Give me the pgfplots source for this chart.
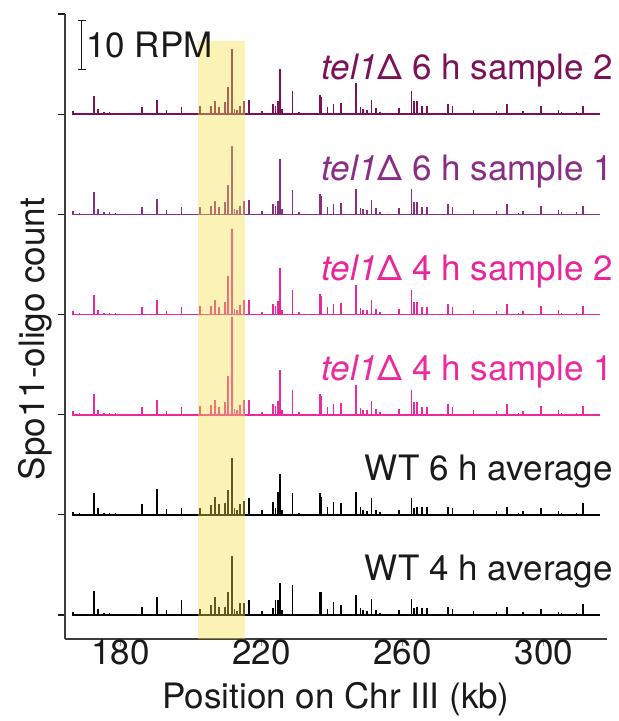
\documentclass[border=0pt]{standalone}
\usepackage{pgfplots}
\usepackage{pgfplotstable}
\pgfplotsset{compat=1.18}
\usepackage{fontspec}
\setmainfont{TeX Gyre Heros}

\definecolor{csixb}{HTML}{7C1157}
\definecolor{csixa}{HTML}{8A2D84}
\definecolor{cfourb}{HTML}{E8259A}
\definecolor{cfoura}{HTML}{EC2A9E}
\definecolor{txt}{HTML}{1A1A1A}
\definecolor{band}{RGB}{242,226,70}

% Spo11-oligo peaks (position in kb, height in RPM)
\pgfplotstableread{
x h
166.5 0.7
168.4 0.3
172.6 3.7
173.6 1.0
175.4 0.4
176.9 0.4
178.6 0.3
186.2 1.4
190.4 3.0
193.1 0.8
197.3 1.4
202.6 1.6
205.6 1.7
206.8 2.7
208.0 1.4
209.7 2.4
210.5 5.5
211.7 13.3
212.3 1.0
213.0 0.8
213.9 1.7
215.0 2.7
216.5 2.8
220.2 0.6
223.3 2.1
223.9 1.7
224.6 2.6
225.2 9.3
225.8 1.0
228.8 4.8
230.6 0.5
236.6 4.0
236.9 3.6
238.7 1.5
240.4 2.0
242.5 2.2
246.6 3.0
246.8 6.3
248.0 1.4
248.7 1.0
249.8 0.9
251.2 2.8
252.5 1.2
253.6 0.5
259.0 1.2
262.5 4.8
263.2 2.6
264.0 2.6
265.4 1.6
266.8 1.6
272.9 2.1
274.1 1.6
280.0 0.9
286.6 0.7
289.5 2.1
292.8 0.3
294.0 0.7
299.1 1.7
304.1 0.9
305.0 0.4
309.2 0.4
311.0 1.7
}\tSixB

\pgfplotstableread{
x h
166.5 0.7
168.4 0.3
172.6 4.5
173.6 1.1
175.4 0.4
176.9 0.4
178.6 0.3
186.2 1.5
190.4 3.2
193.1 0.8
197.3 1.5
202.6 1.6
205.6 1.8
206.8 2.8
208.0 1.5
209.7 2.5
210.5 6.0
211.7 13.9
212.3 1.0
213.0 0.8
213.9 1.8
215.0 2.8
216.5 3.0
220.2 0.6
223.3 2.2
223.9 1.8
224.6 2.8
225.2 11.3
225.8 1.0
228.8 5.0
230.6 0.5
236.6 4.2
236.9 3.8
238.7 1.5
240.4 2.1
242.5 2.3
246.8 5.1
248.0 1.4
248.7 1.0
249.8 0.9
251.2 2.9
252.5 1.2
253.6 0.5
259.0 1.2
262.5 5.1
263.2 2.6
264.0 2.6
265.4 1.6
266.8 1.6
272.9 2.2
274.1 1.6
280.0 0.9
286.6 0.7
289.5 2.2
292.8 0.3
294.0 0.7
299.1 1.8
304.1 0.9
305.0 0.4
309.2 0.4
311.0 1.8
}\tSixA

\pgfplotstableread{
x h
166.5 0.7
168.4 0.3
172.6 4.0
173.6 1.0
175.4 0.4
176.9 0.4
178.6 0.3
186.2 1.5
190.4 3.0
193.1 0.8
197.3 1.5
202.6 1.7
205.6 1.8
206.8 3.0
208.0 1.5
209.7 2.6
210.5 7.8
211.7 17.4
212.3 1.2
213.0 0.9
213.9 1.9
215.0 3.0
216.5 3.0
220.2 0.6
223.3 2.2
223.9 1.8
224.6 2.8
225.2 9.6
225.8 1.0
228.8 5.0
230.6 0.5
236.6 4.3
236.9 3.8
238.7 1.5
240.4 2.1
242.5 2.3
246.8 6.0
248.0 1.4
248.7 1.0
249.8 0.9
251.2 2.9
252.5 1.2
253.6 0.5
259.0 1.2
262.5 5.0
263.2 2.6
264.0 2.6
265.4 1.6
266.8 1.6
272.9 2.2
274.1 1.6
280.0 0.9
286.6 0.7
289.5 2.2
292.8 0.3
294.0 0.7
299.1 1.8
304.1 0.9
305.0 0.4
309.2 0.4
311.0 1.8
}\tFourB

\pgfplotstableread{
x h
166.5 0.7
168.4 0.3
172.6 4.2
173.6 1.0
175.4 0.4
176.9 0.4
178.6 0.3
186.2 1.5
190.4 3.1
193.1 0.8
197.3 1.5
202.6 1.7
205.6 1.9
206.8 3.1
208.0 1.5
209.7 2.7
210.5 8.0
211.7 19.9
212.3 1.2
213.0 0.9
213.9 2.0
215.0 3.1
216.5 3.1
220.2 0.6
223.3 2.2
223.9 1.8
224.6 2.8
225.2 9.2
225.8 1.0
228.8 5.0
230.6 0.5
236.6 4.3
236.9 3.8
238.7 1.5
240.4 2.1
242.5 2.3
246.8 6.0
248.0 1.4
248.7 1.0
249.8 0.9
251.2 2.9
252.5 1.2
253.6 0.5
259.0 1.2
262.5 5.0
263.2 2.6
264.0 2.6
265.4 1.6
266.8 1.6
272.9 2.2
274.1 1.6
280.0 0.9
286.6 0.7
289.5 2.2
292.8 0.3
294.0 0.7
299.1 1.8
304.1 0.9
305.0 0.4
309.2 0.4
311.0 1.8
}\tFourA

\pgfplotstableread{
x h
166.5 0.55
168.4 0.3
172.6 4.5
173.6 1.4
175.4 0.4
176.9 0.4
178.6 0.3
186.2 2.3
190.4 5.2
193.1 1.2
197.3 1.4
202.6 1.5
205.6 2.0
206.8 3.7
208.0 2.3
209.7 2.5
210.5 5.0
211.7 11.6
212.3 1.5
213.0 1.0
213.9 2.3
215.0 2.8
216.5 3.5
220.2 0.9
223.3 2.6
223.9 1.4
224.6 4.6
225.2 8.3
225.8 1.0
228.8 4.4
230.6 0.4
236.6 4.5
236.9 3.7
238.7 1.6
240.4 2.6
242.5 2.4
246.8 4.6
248.0 1.6
248.7 1.0
249.8 0.8
251.2 3.4
252.5 1.0
253.6 0.5
259.0 1.0
262.5 3.5
263.2 1.4
264.0 1.7
265.4 1.6
266.8 1.6
272.9 1.7
274.1 1.4
280.0 0.9
286.6 0.7
289.5 1.7
292.8 0.3
294.0 0.7
299.1 1.4
304.1 0.7
305.0 0.4
309.2 0.4
311.0 2.4
}\tSixW

\pgfplotstableread{
x h
166.5 0.6
168.4 0.3
172.6 5.0
173.6 1.2
175.4 0.4
176.9 0.4
178.6 0.3
186.2 1.7
190.4 3.7
193.1 1.0
197.3 3.1
202.6 1.2
205.6 2.1
206.8 3.7
208.0 1.7
209.7 1.7
210.5 4.8
211.7 12.0
212.3 1.3
213.0 0.9
213.9 2.4
215.0 2.5
216.5 3.1
220.2 0.8
223.3 1.4
223.9 3.1
224.6 3.1
225.2 6.5
225.8 1.0
228.8 6.2
230.6 0.3
236.6 4.8
236.9 4.7
238.7 1.2
240.4 2.6
242.5 2.0
246.8 4.2
248.0 1.5
248.7 1.0
249.8 0.8
251.2 3.2
252.5 1.0
253.6 0.5
259.0 1.0
262.5 3.3
263.2 1.4
264.0 1.6
265.4 1.5
266.8 1.5
272.9 1.6
274.1 1.3
280.0 0.8
286.6 0.7
289.5 1.6
292.8 0.3
294.0 0.7
299.1 1.3
304.1 0.7
305.0 0.4
309.2 0.4
311.0 2.2
}\tFourW

% one track: peaks as vertical strokes rising from the track baseline
\pgfplotsset{
  track/.style 2 args={draw=none, mark=none, forget plot,
    error bars/.cd, y dir=plus, y explicit, error mark=none,
    error bar style={draw=#1, line width=1.6pt, line cap=butt, solid}},
  baseline/.style={#1, line width=1.6pt, mark=none, forget plot},
}

\begin{document}
\begin{tikzpicture}[font=\fontsize{35}{40}\selectfont, text=txt]
\begin{axis}[
  at={(0,0)}, anchor=south west,
  scale only axis, width=541.7pt, height=625pt,
  xmin=164.3, xmax=317.8, ymin=-4.9, ymax=123,
  axis x line*=bottom, axis y line*=left,
  axis line style={draw=txt!85, line width=1.2pt, -},
  xtick={180,220,260,300},
  ytick={0,20.5,41,61.5,82,102.5,123},
  yticklabels={},
  tick align=outside,
  xtick style={draw=black!45, line width=1pt},
  ytick style={draw=txt, line width=1.2pt},
  major tick length=7pt,
  x tick label style={font=\fontsize{35}{40}\selectfont, text=txt, anchor=base, yshift=-18pt},
  /pgf/number format/assume math mode=true,
  clip=false,
]
% WT 4 h average
\addplot[baseline=black] coordinates {(166.3,0) (315.9,0)};
\addplot[track={black}{}] table[x=x, y expr=0, y error=h] {\tFourW};
% WT 6 h average
\addplot[baseline=black] coordinates {(166.3,20.5) (315.9,20.5)};
\addplot[track={black}{}] table[x=x, y expr=20.5, y error=h] {\tSixW};
% tel1 4 h sample 1
\addplot[baseline=cfoura] coordinates {(166.3,41) (315.9,41)};
\addplot[track={cfoura}{}] table[x=x, y expr=41, y error=h] {\tFourA};
% tel1 4 h sample 2
\addplot[baseline=cfourb] coordinates {(166.3,61.5) (315.9,61.5)};
\addplot[track={cfourb}{}] table[x=x, y expr=61.5, y error=h] {\tFourB};
% tel1 6 h sample 1
\addplot[baseline=csixa] coordinates {(166.3,82) (315.9,82)};
\addplot[track={csixa}{}] table[x=x, y expr=82, y error=h] {\tSixA};
% tel1 6 h sample 2
\addplot[baseline=csixb] coordinates {(166.3,102.5) (315.9,102.5)};
\addplot[track={csixb}{}] table[x=x, y expr=102.5, y error=h] {\tSixB};

% highlighted region
\addplot[draw=none, fill=band, fill opacity=0.4, forget plot]
  coordinates {(202,-4.9) (215.3,-4.9) (215.3,117.5) (202,117.5)} \closedcycle;

% 10 RPM scale bar
\addplot[txt, line width=1.1pt, mark=none, forget plot] coordinates {(169.1,111.6) (169.1,121.6)};
\addplot[txt, line width=1.1pt, mark=none, forget plot] coordinates {(168.0,111.6) (170.2,111.6)};
\addplot[txt, line width=1.1pt, mark=none, forget plot] coordinates {(168.0,121.6) (170.2,121.6)};
\node[anchor=base west, inner sep=0pt] at (axis cs:170.3,114.0) {10 RPM};

% track labels
\node[anchor=base east, inner sep=0pt, text=csixb]  at (axis cs:319.6,109.5) {\textit{tel1}Δ 6 h sample 2};
\node[anchor=base east, inner sep=0pt, text=csixa]  at (axis cs:319.6,89.0)  {\textit{tel1}Δ 6 h sample 1};
\node[anchor=base east, inner sep=0pt, text=cfourb] at (axis cs:319.6,68.5)  {\textit{tel1}Δ 4 h sample 2};
\node[anchor=base east, inner sep=0pt, text=cfoura] at (axis cs:319.6,48.0)  {\textit{tel1}Δ 4 h sample 1};
\node[anchor=base east, inner sep=0pt] at (axis cs:319.6,27.5) {WT 6 h average};
\node[anchor=base east, inner sep=0pt] at (axis cs:319.6,7.0)  {WT 4 h average};
\end{axis}
% axis titles
\node[anchor=base, inner sep=0pt] at (271pt,-69pt) {Position on Chr III (kb)};
\node[anchor=base, inner sep=0pt, rotate=90] at (-21pt,300pt) {Spo11-oligo count};
\pgfresetboundingbox
\path[use as bounding box] (-65pt,-82pt) rectangle (554pt,639pt);
\end{tikzpicture}
\end{document}
